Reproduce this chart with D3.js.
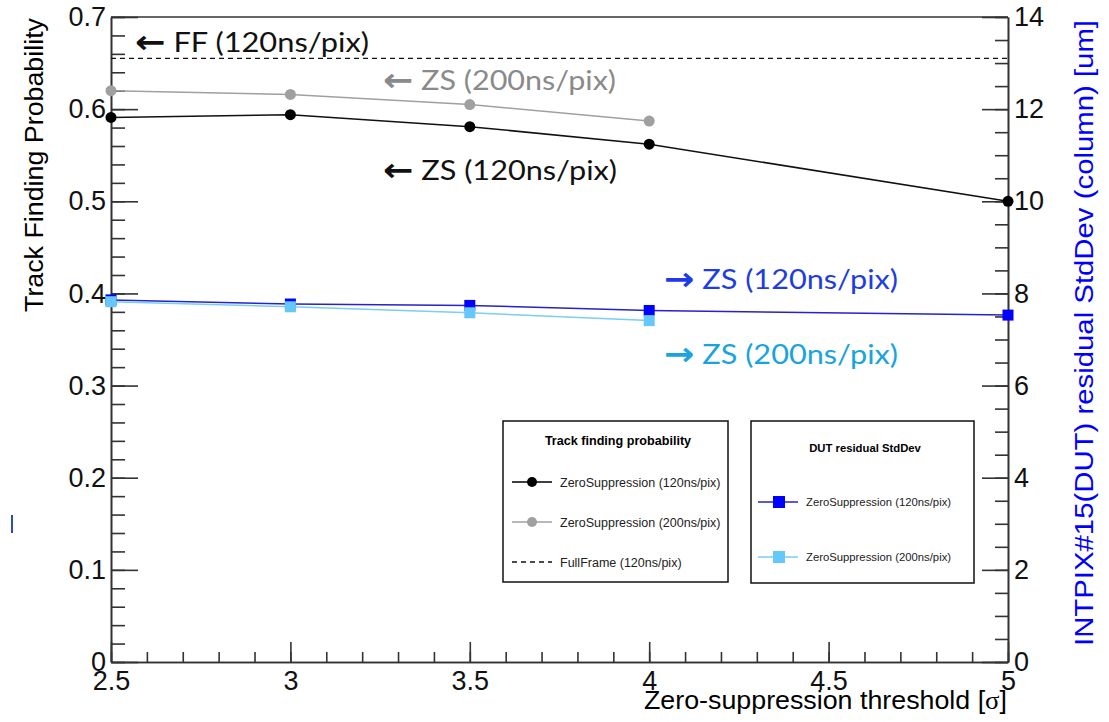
<!DOCTYPE html>
<html>
<head>
<meta charset="utf-8">
<script src="https://cdn.jsdelivr.net/npm/d3@7"></script>
<style>
  body { margin: 0; background: #fff; }
  svg { display: block; }
</style>
</head>
<body>
<script>
// thresholds in sigma
var thresholds = [2.5, 3.0, 3.5, 4.0, 5.0];
var thresholds200 = [2.5, 3.0, 3.5, 4.0];

// track finding probability (left axis)
var probZS120 = [0.591, 0.594, 0.581, 0.562, 0.500];
var probZS200 = [0.620, 0.616, 0.605, 0.587];
var probFF120 = 0.655;

// DUT residual StdDev in um (right axis)
var resZS120 = [7.86, 7.77, 7.74, 7.63, 7.53];
var resZS200 = [7.82, 7.71, 7.58, 7.41];

var xTicks = [2.5, 3, 3.5, 4, 4.5, 5];
var xTickLabels = ["2.5", "3", "3.5", "4", "4.5", "5"];
var leftTicks = [0, 0.1, 0.2, 0.3, 0.4, 0.5, 0.6, 0.7];
var leftTickLabels = ["0", "0.1", "0.2", "0.3", "0.4", "0.5", "0.6", "0.7"];
var rightTicks = [0, 2, 4, 6, 8, 10, 12, 14];
var rightTickLabels = ["0", "2", "4", "6", "8", "10", "12", "14"];

var W = 1109, H = 722;
var pLeft = 111, pRight = 1008, pTop = 17, pBottom = 662;

var svg = d3.select("body").append("svg")
    .attr("width", W)
    .attr("height", H);

svg.append("rect").attr("width", W).attr("height", H).attr("fill", "#fff");

var x = d3.scaleLinear().domain([2.5, 5]).range([pLeft, pRight]);
var yL = d3.scaleLinear().domain([0, 0.7]).range([pBottom, pTop]);
var yR = d3.scaleLinear().domain([0, 14]).range([pBottom, pTop]);

var axisFont = "'Liberation Sans', Arial, Helvetica, sans-serif";
var noteFont = "Lato, 'Open Sans', sans-serif";

function styleAxis(g) {
  g.attr("font-family", axisFont).attr("font-size", 27);
  g.selectAll("path.domain").attr("stroke", "#333").attr("stroke-width", 1.6);
  g.selectAll(".tick line").attr("stroke", "#333").attr("stroke-width", 1.6);
  g.selectAll(".tick text").attr("fill", "#111");
}

// top frame line
svg.append("line")
  .attr("x1", pLeft).attr("x2", pRight)
  .attr("y1", pTop).attr("y2", pTop)
  .attr("stroke", "#333").attr("stroke-width", 1.6);

// minor ticks
svg.append("g")
  .attr("transform", "translate(" + pLeft + ",0)")
  .call(d3.axisLeft(yL).tickValues(d3.range(0, 0.7001, 0.02)).tickSize(-14).tickSizeOuter(0).tickFormat(""))
  .call(styleAxis);
svg.append("g")
  .attr("transform", "translate(" + pRight + ",0)")
  .call(d3.axisRight(yR).tickValues(d3.range(0, 14.001, 0.5)).tickSize(-13).tickSizeOuter(0).tickFormat(""))
  .call(styleAxis);
svg.append("g")
  .attr("transform", "translate(0," + pBottom + ")")
  .call(d3.axisBottom(x).tickValues(d3.range(2.5, 5.001, 0.1)).tickSize(-10).tickSizeOuter(0).tickFormat(""))
  .call(styleAxis);

// major ticks + labels
svg.append("g")
  .attr("transform", "translate(" + pLeft + ",0)")
  .call(d3.axisLeft(yL).tickValues(leftTicks).tickSize(-27).tickSizeOuter(0).tickPadding(5)
    .tickFormat(function(d, i) { return leftTickLabels[i]; }))
  .call(styleAxis);
svg.append("g")
  .attr("transform", "translate(" + pRight + ",0)")
  .call(d3.axisRight(yR).tickValues(rightTicks).tickSize(-26).tickSizeOuter(0).tickPadding(6)
    .tickFormat(function(d, i) { return rightTickLabels[i]; }))
  .call(styleAxis);
svg.append("g")
  .attr("transform", "translate(0," + pBottom + ")")
  .call(d3.axisBottom(x).tickValues(xTicks).tickSize(-20).tickSizeOuter(0).tickPadding(9)
    .tickFormat(function(d, i) { return xTickLabels[i]; }))
  .call(styleAxis);

// axis titles
svg.append("text")
  .attr("transform", "translate(43,165) rotate(-90)")
  .attr("text-anchor", "middle")
  .attr("font-family", axisFont).attr("font-size", 26)
  .attr("textLength", 294).attr("lengthAdjust", "spacingAndGlyphs")
  .text("Track Finding Probability");

svg.append("text")
  .attr("transform", "translate(1093,333) rotate(-90)")
  .attr("text-anchor", "middle")
  .attr("font-family", axisFont).attr("font-size", 26)
  .attr("fill", "#0000ff")
  .attr("textLength", 626).attr("lengthAdjust", "spacingAndGlyphs")
  .text("INTPIX#15(DUT) residual StdDev (column) [um]");

var xTitle = svg.append("text")
  .attr("x", 1007).attr("y", 709)
  .attr("text-anchor", "end")
  .attr("font-family", axisFont).attr("font-size", 26)
  .attr("textLength", 363).attr("lengthAdjust", "spacingAndGlyphs");
xTitle.append("tspan").text("Zero-suppression threshold [");
xTitle.append("tspan").attr("font-family", "'Liberation Serif', 'DejaVu Serif', serif").text("σ");
xTitle.append("tspan").text("]");

// full frame reference line
svg.append("line")
  .attr("x1", x(2.5)).attr("x2", x(5))
  .attr("y1", yL(probFF120)).attr("y2", yL(probFF120))
  .attr("stroke", "#111").attr("stroke-width", 1.3)
  .attr("stroke-dasharray", "5,4");

var lineL = d3.line()
  .x(function(d) { return x(d[0]); })
  .y(function(d) { return yL(d[1]); });
var lineR = d3.line()
  .x(function(d) { return x(d[0]); })
  .y(function(d) { return yR(d[1]); });

var zs200 = d3.zip(thresholds200, probZS200);
var zs120 = d3.zip(thresholds, probZS120);
var res120 = d3.zip(thresholds, resZS120);
var res200 = d3.zip(thresholds200, resZS200);

function drawCircles(data, line, color, lineColor) {
  svg.append("path").datum(data)
    .attr("d", line).attr("fill", "none")
    .attr("stroke", lineColor).attr("stroke-width", 1.5);
  svg.append("g").selectAll("circle")
    .data(data).enter().append("circle")
    .attr("cx", function(d) { return x(d[0]); })
    .attr("cy", function(d) { return yL(d[1]); })
    .attr("r", 5.5)
    .attr("fill", color);
}

function drawSquares(data, color, lineColor) {
  var s = 11;
  svg.append("path").datum(data)
    .attr("d", lineR).attr("fill", "none")
    .attr("stroke", lineColor).attr("stroke-width", 1.5);
  svg.append("g").selectAll("rect")
    .data(data).enter().append("rect")
    .attr("x", function(d) { return x(d[0]) - s / 2; })
    .attr("y", function(d) { return yR(d[1]) - s / 2; })
    .attr("width", s).attr("height", s)
    .attr("fill", color);
}

drawCircles(zs200, lineL, "#a0a0a0", "#a0a0a0");
drawCircles(zs120, lineL, "#000", "#111");
drawSquares(res120, "#0000ff", "#2424c8");
drawSquares(res200, "#66c8fa", "#7ccdf5");

// annotations
var notes = [
  { a: "←", t: " FF (120ns/pix)", x: 135, y: 52, w: 234, c: "#111" },
  { a: "←", t: " ZS (200ns/pix)", x: 383, y: 90, w: 233, c: "#8a8a8a" },
  { a: "←", t: " ZS (120ns/pix)", x: 383, y: 180, w: 234, c: "#111" },
  { a: "→", t: " ZS (120ns/pix)", x: 664, y: 289, w: 234, c: "#1e3ce6" },
  { a: "→", t: " ZS (200ns/pix)", x: 664, y: 364, w: 234, c: "#1aa3de" }
];
var noteText = svg.append("g").selectAll("text")
  .data(notes).enter().append("text")
  .attr("x", function(d) { return d.x; })
  .attr("y", function(d) { return d.y; })
  .attr("fill", function(d) { return d.c; })
  .attr("font-family", noteFont).attr("font-size", 27)
  .attr("textLength", function(d) { return d.w; })
  .attr("lengthAdjust", "spacingAndGlyphs");
noteText.append("tspan")
  .attr("font-family", "'DejaVu Sans', sans-serif")
  .attr("font-weight", "bold")
  .attr("font-size", 32)
  .attr("dy", 1)
  .text(function(d) { return d.a; });
noteText.append("tspan")
  .attr("dy", -1)
  .text(function(d) { return d.t; });

// legend 1: track finding probability
var lg1 = svg.append("g");
lg1.append("rect")
  .attr("x", 503).attr("y", 421).attr("width", 225).attr("height", 161)
  .attr("fill", "#fff").attr("stroke", "#111").attr("stroke-width", 1.5);
lg1.append("text")
  .attr("x", 618).attr("y", 445).attr("text-anchor", "middle")
  .attr("font-family", axisFont).attr("font-weight", "bold").attr("font-size", 12.6)
  .text("Track finding probability");

var lg1Items = [
  { label: "ZeroSuppression (120ns/pix)", color: "#000", dash: null, marker: true, y: 482 },
  { label: "ZeroSuppression (200ns/pix)", color: "#a0a0a0", dash: null, marker: true, y: 522 },
  { label: "FullFrame (120ns/pix)", color: "#111", dash: "5,4", marker: false, y: 562 }
];
lg1Items.forEach(function(it) {
  lg1.append("line")
    .attr("x1", 512).attr("x2", 552).attr("y1", it.y).attr("y2", it.y)
    .attr("stroke", it.color).attr("stroke-width", 1.5)
    .attr("stroke-dasharray", it.dash);
  if (it.marker) {
    lg1.append("circle").attr("cx", 532).attr("cy", it.y).attr("r", 5).attr("fill", it.color);
  }
  lg1.append("text")
    .attr("x", 560).attr("y", it.y + 4.5)
    .attr("font-family", axisFont).attr("font-size", 12.5)
    .attr("fill", "#222")
    .text(it.label);
});

// legend 2: DUT residual StdDev
var lg2 = svg.append("g");
lg2.append("rect")
  .attr("x", 751).attr("y", 421).attr("width", 223).attr("height", 162)
  .attr("fill", "#fff").attr("stroke", "#111").attr("stroke-width", 1.5);
lg2.append("text")
  .attr("x", 865).attr("y", 452).attr("text-anchor", "middle")
  .attr("font-family", axisFont).attr("font-weight", "bold").attr("font-size", 11.3)
  .text("DUT residual StdDev");

var lg2Items = [
  { label: "ZeroSuppression (120ns/pix)", color: "#0000ff", lineColor: "#2424c8", y: 502 },
  { label: "ZeroSuppression (200ns/pix)", color: "#66c8fa", lineColor: "#7ccdf5", y: 557 }
];
lg2Items.forEach(function(it) {
  lg2.append("line")
    .attr("x1", 758).attr("x2", 798).attr("y1", it.y).attr("y2", it.y)
    .attr("stroke", it.lineColor).attr("stroke-width", 1.5);
  lg2.append("rect")
    .attr("x", 773).attr("y", it.y - 6).attr("width", 12).attr("height", 12)
    .attr("fill", it.color);
  lg2.append("text")
    .attr("x", 806).attr("y", it.y + 4)
    .attr("font-family", axisFont).attr("font-size", 11.3)
    .attr("fill", "#222")
    .text(it.label);
});

// small stray mark on the left edge of the original image
svg.append("rect")
  .attr("x", 11).attr("y", 515).attr("width", 2).attr("height", 18)
  .attr("fill", "#2a4ac8");
</script>
</body>
</html>
